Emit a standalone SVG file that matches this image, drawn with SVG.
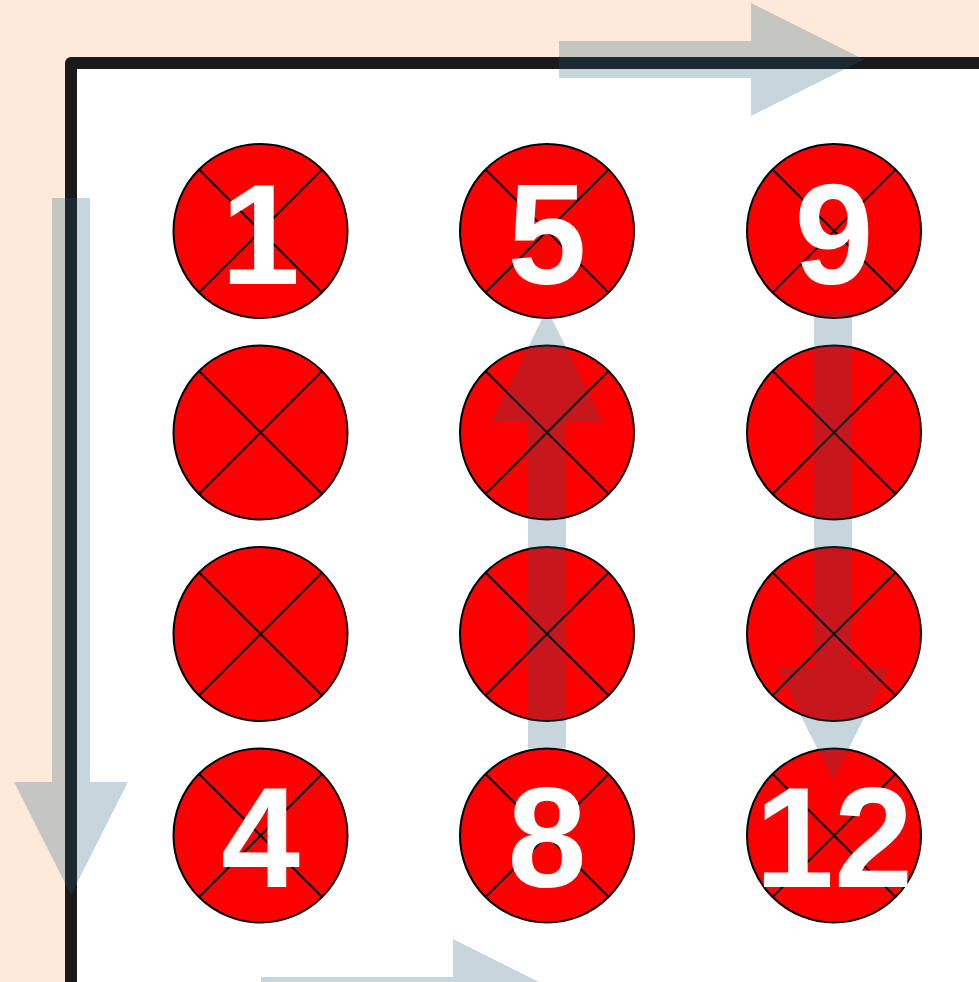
<svg xmlns="http://www.w3.org/2000/svg" width="979" height="982" viewBox="0 0 979 982">
<style>
.c{fill:#FF0000;stroke:#000;stroke-width:2}
.x{stroke:#000;stroke-width:2;fill:none}
.t{font-family:"Liberation Sans",Arial,sans-serif;font-weight:bold;font-size:142px;fill:#fff;text-anchor:middle}
.a{fill:#1F5A72;fill-opacity:0.25}
</style>
<defs>
<g id="dot">
<circle class="c" cx="0" cy="0" r="87"/>
<path class="x" d="M-61.5,-61.5L61.5,61.5M61.5,-61.5L-61.5,61.5"/>
</g>
</defs>
<rect width="979" height="982" fill="#FDEADB"/>
<g id="frame">
<rect x="71" y="63" width="1000" height="1000" fill="#fff"/>
<path d="M71,1100V63H1100" fill="none" stroke="#1A1A1A" stroke-width="12" stroke-linejoin="round"/>
</g>
<g id="n1"><use href="#dot" x="260.5" y="231"/><text class="t" x="260.5" y="283.5">1</text></g>
<g id="n2"><use href="#dot" x="260.5" y="432.5"/></g>
<g id="n3"><use href="#dot" x="260.5" y="634"/></g>
<g id="n4"><use href="#dot" x="260.5" y="835.5"/><text class="t" x="260.5" y="886.5">4</text></g>
<g id="n5"><use href="#dot" x="547" y="231"/><text class="t" x="547" y="283.5">5</text></g>
<g id="n6"><use href="#dot" x="547" y="432.5"/></g>
<g id="n7"><use href="#dot" x="547" y="634"/></g>
<g id="n8"><use href="#dot" x="547" y="835.5"/><text class="t" x="547" y="886.5">8</text></g>
<g id="n9"><use href="#dot" x="834" y="231"/><text class="t" x="834" y="283.5">9</text></g>
<g id="n10"><use href="#dot" x="834" y="432.5"/></g>
<g id="n11"><use href="#dot" x="834" y="634"/></g>
<g id="n12"><use href="#dot" x="834" y="835.5"/><text class="t" x="834" y="886.5">12</text></g>
<g id="connectors">
<path class="a" d="M559,41H751V3L864,59.5L751,116V78H559Z"/>
<path class="a" d="M52,198V782H14L71,895L128,782H90V198Z"/>
<path class="a" d="M261,977H453V939L566,995.5L453,1052V1014H261Z"/>
<path class="a" d="M528,748V422H491L547,309L603,422H566V748Z"/>
<path class="a" d="M814,312V668H777L833,780L889,668H852V312Z"/>
</g>
</svg>
